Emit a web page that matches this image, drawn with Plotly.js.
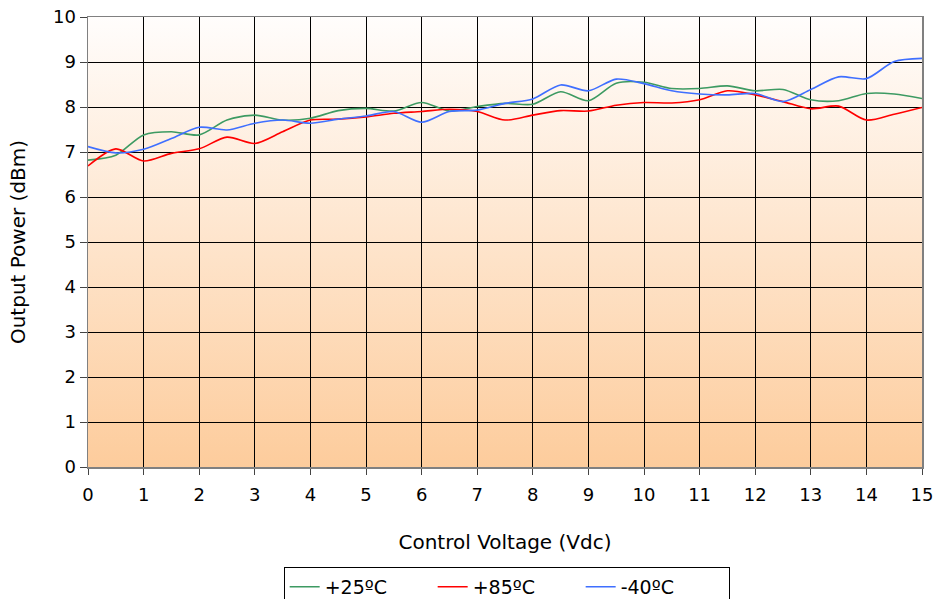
<!DOCTYPE html>
<html>
<head>
<meta charset="utf-8">
<script src="https://cdn.plot.ly/plotly-3.0.1.min.js"></script>
<style>html,body{margin:0;padding:0;background:#fff;}#chart{width:936px;height:599px;}</style>
</head>
<body>
<div id="chart"></div>
<script>
const voltage = [0,0.5,1,1.5,2,2.5,3,3.5,4,4.5,5,5.5,6,6.5,7,7.5,8,8.5,9,9.5,10,10.5,11,11.5,12,12.5,13,13.5,14,14.5,15];
const p25 = [6.82,6.93,7.38,7.45,7.38,7.71,7.82,7.71,7.75,7.92,7.97,7.91,8.10,7.91,8.01,8.08,8.06,8.34,8.14,8.53,8.55,8.41,8.41,8.47,8.36,8.39,8.16,8.14,8.30,8.29,8.19];
const p85 = [6.69,7.07,6.80,6.97,7.07,7.33,7.19,7.45,7.71,7.73,7.78,7.86,7.90,7.95,7.90,7.71,7.82,7.92,7.91,8.04,8.10,8.09,8.16,8.36,8.27,8.12,7.96,8.02,7.71,7.84,7.99];
const pm40 = [7.12,6.98,7.06,7.30,7.55,7.49,7.64,7.71,7.64,7.73,7.80,7.90,7.66,7.90,7.93,8.08,8.18,8.49,8.36,8.62,8.52,8.36,8.29,8.27,8.30,8.12,8.39,8.67,8.63,9.01,9.08];
const seriesNames = ['+25ºC','+85ºC','-40ºC'];
const xTicks = [0,1,2,3,4,5,6,7,8,9,10,11,12,13,14,15];
const yTicks = [0,1,2,3,4,5,6,7,8,9,10];

const colors = ['#3d9a62','#ff0000','#3f6fff'];
const ys = [p25,p85,pm40];
const traces = ys.map((y,i)=>({
  x: voltage, y: y, name: seriesNames[i], type:'scatter', mode:'lines',
  line:{color:colors[i], width:1.6, shape:'spline', smoothing:0.8}
}));

const grad = 'data:image/svg+xml;utf8,' + encodeURIComponent(
  '<svg xmlns="http://www.w3.org/2000/svg" width="100" height="100" preserveAspectRatio="none">' +
  '<defs><linearGradient id="g" x1="0" y1="0" x2="0" y2="1">' +
  '<stop offset="0" stop-color="#fffdfc"/><stop offset="1" stop-color="#fdcc9c"/>' +
  '</linearGradient></defs><rect width="100" height="100" fill="url(#g)"/></svg>');

const fam = '"DejaVu Sans", Verdana, sans-serif';
const layout = {
  width:936, height:599,
  margin:{l:88, r:14, t:17, b:132, autoexpand:false},
  paper_bgcolor:'#ffffff', plot_bgcolor:'rgba(0,0,0,0)',
  font: {family:fam, size:18, color:'#000'},
  showlegend:true,
  images:[{source:grad, xref:'paper', yref:'paper', x:0, y:1, sizex:1, sizey:1, sizing:'stretch', layer:'below'}],
  xaxis:{
    range:[0,15], tickvals:xTicks, ticktext:xTicks.map(String),
    showgrid:true, gridcolor:'#000', gridwidth:1,
    showline:true, linecolor:'#808080', linewidth:1.5, mirror:true,
    ticks:'outside', ticklen:6, tickcolor:'#444', zeroline:false,
    ticklabelstandoff:5,
    tickfont:{family:fam, size:18, color:'#000'},
    title:{text:'Control Voltage (Vdc)', font:{family:fam, size:20, color:'#000'}, standoff:31}
  },
  yaxis:{
    range:[0,10], tickvals:yTicks, ticktext:yTicks.map(String),
    showgrid:true, gridcolor:'#000', gridwidth:1,
    showline:true, linecolor:'#808080', linewidth:1.5, mirror:true,
    ticks:'outside', ticklen:7, tickcolor:'#444', zeroline:false,
    tickfont:{family:fam, size:18, color:'#000'},
    title:{text:'Output Power (dBm)', font:{family:fam, size:20, color:'#000'}, standoff:22}
  },
  legend:{
    orientation:'h', x:0.502, xanchor:'center', y:-0.222, yanchor:'top',
    bordercolor:'#000', borderwidth:1, bgcolor:'#fff',
    font:{family:fam, size:19, color:'#000'},
    entrywidth:103, entrywidthmode:'pixels', tracegroupgap:0
  }
};
Plotly.newPlot('chart', traces, layout, {displayModeBar:false, staticPlot:true});
</script>
</body>
</html>
